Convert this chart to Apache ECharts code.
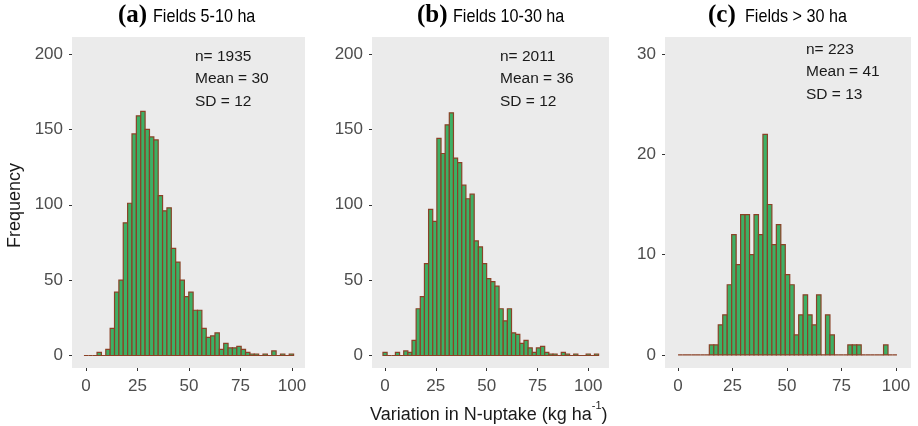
<!DOCTYPE html>
<html>
<head>
<meta charset="utf-8">
<script src="https://cdn.jsdelivr.net/npm/echarts@6/dist/echarts.min.js"></script>
<style>
html, body { margin: 0; padding: 0; background: #fff; }
#main { width: 918px; height: 426px; }
</style>
</head>
<body>
<div id="main"></div>
<script>
// counts per bin (left to right)
var countsA = [0, 0, 0, 2, 0, 4, 18, 42, 50, 88, 101, 147, 159, 162, 150, 145, 143, 106, 96, 98,
    71, 62, 50, 39, 42, 30, 30, 18, 12, 13, 15, 4, 8, 5, 5, 6, 4, 2, 1, 1, 0, 1, 0, 3, 0, 1, 0, 1];
var countsB = [2, 0, 0, 2, 0, 3, 2, 10, 31, 39, 61, 97, 89, 144, 134, 153, 161, 131, 128, 113,
    104, 107, 76, 72, 61, 51, 49, 46, 31, 23, 31, 15, 14, 8, 10, 5, 2, 5, 6, 2, 1, 1, 0, 2, 1, 0, 1, 0, 0, 1, 0, 1];
var countsC = [0, 0, 0, 0, 0, 0, 0, 1, 1, 3, 4, 7, 12, 9, 14, 14, 10, 14, 12, 22, 15, 11, 13, 11, 8,
    7, 2, 4, 6, 4, 3, 6, 0, 4, 2, 0, 0, 0, 1, 1, 1, 0, 0, 0, 0, 0, 1, 0, 0];
// first bin edge, bin width
var binA = [-1, 2.12];
var binB = [-1, 2.04];
var binC = [0, 2.05];

var xTicks = [0, 25, 50, 75, 100];
var yTicksAB = [0, 50, 100, 150, 200];
var yTicksC = [0, 10, 20, 30];

var statsA = ['n= 1935', 'Mean = 30', 'SD = 12'];
var statsB = ['n= 2011', 'Mean = 36', 'SD = 12'];
var statsC = ['n= 223', 'Mean = 41', 'SD = 13'];

var sans = 'Liberation Sans, Arial, sans-serif';

function toBins(counts, bin) {
    var out = [];
    for (var i = 0; i < counts.length; i++) {
        out.push([bin[0] + i * bin[1], bin[0] + (i + 1) * bin[1], counts[i]]);
    }
    return out;
}

function renderBar(params, api) {
    var p0 = api.coord([api.value(0), api.value(2)]);
    var p1 = api.coord([api.value(1), 0]);
    return {
        type: 'rect',
        shape: {x: p0[0], y: p0[1], width: p1[0] - p0[0], height: p1[1] - p0[1]},
        style: {fill: '#3DB065', stroke: '#8A4227', lineWidth: 1.2}
    };
}

function xAxisFor(i, min, max) {
    return {
        gridIndex: i, type: 'value', min: min, max: max,
        axisLine: {show: false, onZero: false},
        splitLine: {show: false},
        axisTick: {show: true, length: 3, customValues: xTicks, lineStyle: {color: '#333'}},
        axisLabel: {customValues: xTicks, color: '#4D4D4D', fontSize: 17, fontFamily: sans, margin: 10}
    };
}

function yAxisFor(i, min, max, ticks) {
    return {
        gridIndex: i, type: 'value', min: min, max: max,
        axisLine: {show: false, onZero: false},
        splitLine: {show: false},
        axisTick: {show: true, length: 3, customValues: ticks, lineStyle: {color: '#333'}},
        axisLabel: {customValues: ticks, color: '#4D4D4D', fontSize: 17, fontFamily: sans, margin: 9}
    };
}

function gridFor(left, width) {
    return {left: left, top: 37, width: width, height: 331, show: true,
        backgroundColor: '#EBEBEB', borderWidth: 0};
}

function statsText(lines, left, top) {
    return {
        type: 'text', left: left, top: top,
        style: {text: lines.join('\n'), font: '15.5px ' + sans, fill: '#1A1A1A', lineHeight: 22.5}
    };
}

function titleTag(tag, left) {
    return {
        type: 'text', left: left, top: 3,
        style: {text: tag, font: 'bold 25px Liberation Serif, Times New Roman, serif', fill: '#000'}
    };
}

function titleName(name, left) {
    // narrow sans, squeezed horizontally
    return {
        type: 'text', x: left, y: 7, scaleX: 0.85,
        style: {text: name, font: '19px ' + sans, fill: '#000'}
    };
}

var myChart = echarts.init(document.getElementById('main'));
var option = {
    animation: false,
    grid: [gridFor(72, 233), gridFor(372, 237), gridFor(665, 246)],
    xAxis: [xAxisFor(0, -6.8, 106.3), xAxisFor(1, -6.4, 110.2), xAxisFor(2, -6.0, 106.9)],
    yAxis: [yAxisFor(0, -8.3, 211.3, yTicksAB), yAxisFor(1, -8.3, 211.3, yTicksAB), yAxisFor(2, -1.3, 31.7, yTicksC)],
    series: [
        {type: 'custom', xAxisIndex: 0, yAxisIndex: 0, renderItem: renderBar, data: toBins(countsA, binA), encode: {x: [0, 1], y: 2}},
        {type: 'custom', xAxisIndex: 1, yAxisIndex: 1, renderItem: renderBar, data: toBins(countsB, binB), encode: {x: [0, 1], y: 2}},
        {type: 'custom', xAxisIndex: 2, yAxisIndex: 2, renderItem: renderBar, data: toBins(countsC, binC), encode: {x: [0, 1], y: 2}}
    ],
    graphic: [
        titleTag('(a)', 118), titleName('Fields 5-10 ha', 153),
        titleTag('(b)', 417), titleName('Fields 10-30 ha', 453),
        titleTag('(c)', 708), titleName('Fields > 30 ha', 745),
        statsText(statsA, 195, 45),
        statsText(statsB, 500, 45),
        statsText(statsC, 806, 38),
        {
            type: 'text', left: 6, top: 163, rotation: Math.PI / 2,
            style: {text: 'Frequency', font: '18px ' + sans, fill: '#1A1A1A'}
        },
        {
            type: 'text', left: 370, top: 400,
            style: {
                text: '{t|Variation in N-uptake (kg ha}{s|-1}{t|)}',
                rich: {
                    t: {font: '18px ' + sans, fill: '#1A1A1A', lineHeight: 24, verticalAlign: 'bottom'},
                    s: {font: '11px ' + sans, fill: '#1A1A1A', lineHeight: 24, verticalAlign: 'top'}
                }
            }
        }
    ]
};
myChart.setOption(option);
</script>
</body>
</html>
